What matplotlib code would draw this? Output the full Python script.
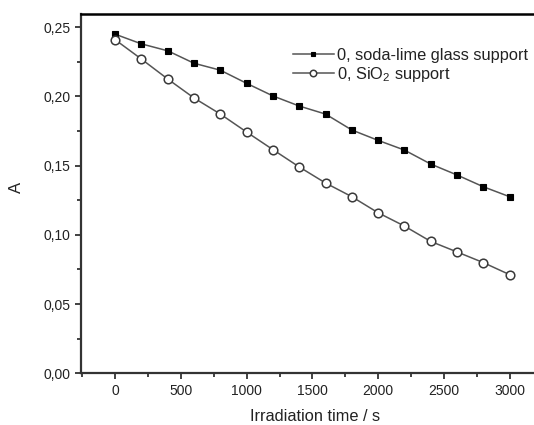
import matplotlib
matplotlib.use("Agg")
import matplotlib.pyplot as plt
from matplotlib.ticker import MultipleLocator, FuncFormatter

plt.rcParams['font.family'] = ['Liberation Sans', 'DejaVu Sans']
plt.rcParams['mathtext.fontset'] = 'custom'
plt.rcParams['mathtext.rm'] = 'Liberation Sans'
plt.rcParams['mathtext.it'] = 'Liberation Sans'
plt.rcParams['mathtext.default'] = 'regular'

time_s = [0, 200, 400, 600, 800, 1000, 1200, 1400, 1600, 1800, 2000, 2200, 2400, 2600, 2800, 3000]
soda_lime = [0.245, 0.238, 0.233, 0.224, 0.219, 0.2095, 0.2004, 0.1931, 0.1873, 0.1758, 0.1683,
             0.1613, 0.1512, 0.1433, 0.1348, 0.1276]
sio2 = [0.241, 0.227, 0.2126, 0.1989, 0.1873, 0.1743, 0.1616, 0.1491, 0.1375, 0.1276, 0.1160,
        0.1064, 0.0953, 0.0877, 0.0800, 0.0713]
series_labels = ['0, soda-lime glass support', '0, SiO$_2$ support']
x_label = 'Irradiation time / s'
y_label = 'A'

fig = plt.figure(figsize=(5.34, 4.25), dpi=100)
ax = fig.add_axes([81 / 534, 1 - 373.3 / 425, 468 / 534, (373.3 - 14) / 425])

line_col = '#555555'
ax.plot(time_s, soda_lime, '-', color=line_col, lw=1.1, marker='s', ms=4.6,
        mfc='black', mec='black', mew=0.8, label=series_labels[0], zorder=3)
ax.plot(time_s, sio2, '-', color=line_col, lw=1.1, marker='o', ms=6.2,
        mfc='white', mec='#3a3a3a', mew=1.1, label=series_labels[1], zorder=3)

ax.set_xlim(-260, 3300)
ax.set_ylim(0, 0.2596)

ax.xaxis.set_major_locator(MultipleLocator(500))
ax.xaxis.set_minor_locator(MultipleLocator(250))
ax.yaxis.set_major_locator(MultipleLocator(0.05))
ax.yaxis.set_minor_locator(MultipleLocator(0.025))
ax.yaxis.set_major_formatter(FuncFormatter(lambda v, p: f"{v:.2f}".replace('.', ',')))
ax.xaxis.set_major_formatter(FuncFormatter(lambda v, p: f"{v:.0f}"))

spine_col = '#333333'
for s in ['left', 'bottom']:
    ax.spines[s].set_color(spine_col)
    ax.spines[s].set_linewidth(1.6)
ax.spines['top'].set_color('black')
ax.spines['top'].set_linewidth(1.8)
ax.spines['right'].set_visible(False)

ax.tick_params(which='both', direction='out', colors=spine_col, top=False, right=False)
ax.tick_params(which='major', length=4.5, width=1.3, labelsize=10, labelcolor='#222222', pad=3)
ax.tick_params(which='minor', length=2.8, width=1.3)

ax.set_xlabel(x_label, fontsize=11.8, color='#222222')
ax.xaxis.label.set_va('baseline')
ax.xaxis.set_label_coords(0.5, (373.3 - 421) / 359.3)
ax.set_ylabel(y_label, fontsize=12, color='#222222')
ax.yaxis.label.set_va('center')
ax.yaxis.set_label_coords((16.3 - 81) / 468, (373.3 - 187) / 359.3)

leg = ax.legend(loc='upper left', bbox_to_anchor=(293 / 534, 1 - 48 / 425),
                bbox_transform=fig.transFigure, frameon=False, fontsize=11.8,
                handlelength=2.5, handletextpad=0.2, labelspacing=0.1,
                borderpad=0, borderaxespad=0, numpoints=1, markerscale=0.75)
for t in leg.get_texts():
    t.set_color('#222222')

fig.savefig('out.png', dpi=100)
